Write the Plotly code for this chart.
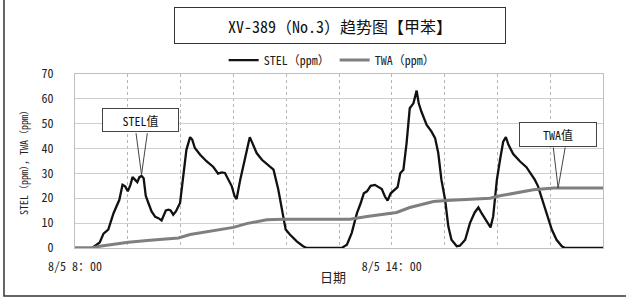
import plotly.graph_objects as go

# hours after 8/5 8:00
stel_x = [0, 0.32, 0.41, 0.47, 0.54, 0.63, 0.73, 0.79, 0.84, 0.90, 0.95, 1.0, 1.05, 1.09, 1.14, 1.18, 1.22, 1.26, 1.30,
          1.34, 1.39, 1.45, 1.52, 1.58, 1.64, 1.67, 1.72, 1.77, 1.81, 1.86, 1.91, 1.99, 2.05, 2.11, 2.18, 2.22, 2.27,
          2.37, 2.49, 2.62, 2.71, 2.78, 2.84, 2.90, 2.97, 3.02, 3.06, 3.13, 3.22, 3.31, 3.36, 3.44, 3.54, 3.66, 3.76,
          3.85, 3.91, 3.99, 4.07, 4.20, 4.32, 4.39,
          5.05, 5.15, 5.24, 5.34, 5.41, 5.47, 5.53, 5.60, 5.68, 5.74, 5.81, 5.87, 5.92, 5.98, 6.06, 6.11, 6.16, 6.22,
          6.28, 6.34, 6.41, 6.47, 6.51, 6.56, 6.66, 6.75, 6.82, 6.88, 6.94, 7.01, 7.07, 7.13, 7.23, 7.29, 7.39, 7.48,
          7.57, 7.64, 7.70, 7.80, 7.87, 7.92, 7.99, 8.05, 8.11, 8.16, 8.21, 8.30, 8.43, 8.55, 8.65, 8.71, 8.77, 8.84,
          8.93, 9.03, 9.12, 9.22, 9.28, 10.0]
stel_y = [0, 0, 1.3, 2.3, 5.8, 7.4, 14, 17.4, 19.4, 25.4, 24.8, 22.8, 25.4, 28.5, 27.4, 26.5, 28.5, 29, 28.1,
          21, 18.1, 14.7, 12.5, 12, 11.1, 12.7, 15.1, 15.4, 15.1, 13.4, 14.7, 18.1, 28.8, 39.5, 44.6, 43.6, 40.2,
          37.5, 34.9, 32.6, 29.9, 30.4, 30.2, 27.7, 24.8, 21, 19.7, 27.5, 35.5, 44.6, 42.2, 38.2, 35.5, 33.1, 31.5,
          23.5, 16.8, 7.4, 5.4, 2.7, 0.7, 0,
          0, 1.3, 6, 14, 18, 22, 22.8, 25, 25.4, 24.5, 23.7, 20.7, 19.1, 22, 23.4, 24.5, 30.1, 31.5,
          42.2, 56.2, 58.2, 63.3, 58.2, 54.9, 49.5, 46.9, 44.2, 38.2, 27.4, 19.4, 8.7, 3.3, 0.7, 0.9, 3.3, 10,
          14.3, 16.3, 14, 10.7, 8.3, 12.7, 27.4, 35.5, 42.8, 44.6, 41.5, 37.8, 34.8, 32.5, 29.5, 27.4, 24.8, 20.1,
          13.4, 7.4, 3.3, 0.7, 0, 0]

twa_x = [0, 0.32, 0.47, 1.01, 1.42, 1.96, 2.18, 3.0, 3.25, 3.63, 3.95, 5.21, 5.53, 6.09, 6.34, 6.79, 7.04, 7.86,
         8.05, 8.68, 9.06, 10.0]
twa_y = [0, 0, 0.7, 2.3, 3.1, 4.0, 5.4, 8.3, 9.8, 11.4, 11.6, 11.6, 12.7, 14.3, 16.3, 18.7, 19.1, 20.0,
         21.0, 23.4, 24.1, 24.1]

tick_vals = [0, 6]
tick_text = ["8/5 8：00", "8/5 14：00"]
y_ticks = [0, 10, 20, 30, 40, 50, 60, 70]

stel_note = (1.26, 29.5)
twa_note = (9.15, 24.1)

FONT = "Noto Sans Mono CJK SC, Noto Sans CJK SC, DejaVu Sans Mono"

fig = go.Figure()
fig.add_trace(go.Scatter(x=stel_x, y=stel_y, mode="lines", name="STEL（ppm）",
                         line=dict(color="#111111", width=2.3)))
fig.add_trace(go.Scatter(x=twa_x, y=twa_y, mode="lines", name="TWA（ppm）",
                         line=dict(color="#7f7f7f", width=3)))

fig.update_layout(
    width=626, height=304,
    margin=dict(l=75, r=23, t=74, b=56),
    paper_bgcolor="white", plot_bgcolor="white",
    font=dict(family=FONT, size=11, color="#222222"),
    showlegend=True,
    legend=dict(orientation="h", x=0.487, xanchor="center", y=1.08, yanchor="middle",
                font=dict(size=12, color="#222222"), bgcolor="rgba(0,0,0,0)",
                itemwidth=30, tracegroupgap=0),
)
fig.update_xaxes(range=[0, 10], tickvals=tick_vals, ticktext=tick_text,
                 showgrid=False, showline=True, mirror=True, linecolor="#bfbfbf", linewidth=1,
                 ticks="", ticklabelstandoff=8, tickfont=dict(size=12, color="#222222"),
                 zeroline=False, automargin=False)
fig.update_xaxes(minor=dict(dtick=1, tick0=0, showgrid=True, gridcolor="#b5b5b5", griddash="dot", gridwidth=1))
fig.update_yaxes(range=[0, 70], tickvals=y_ticks, showgrid=True, gridcolor="#cfcfcf", gridwidth=1,
                 showline=True, mirror=True, linecolor="#bfbfbf", linewidth=1, zeroline=False,
                 ticks="", ticklabelstandoff=18, tickfont=dict(size=12, color="#222222"), automargin=False)

# outer frame
fig.add_shape(type="rect", xref="paper", yref="paper", x0=-0.1345, x1=1.06, y0=-0.2759, y1=1.45,
              line=dict(color="#333333", width=1.5), fillcolor="rgba(0,0,0,0)", layer="below")

# title box
fig.add_annotation(xref="paper", yref="paper", x=0.502, y=1.2816, xanchor="center", yanchor="middle",
                   text="XV-389（No.3）趋势图【甲苯】", showarrow=False, width=328, height=33,
                   bordercolor="#333333", borderwidth=1, bgcolor="white",
                   font=dict(family=FONT, size=16, color="#111111"))
# axis titles
fig.add_annotation(xref="paper", yref="paper", x=-0.0966, y=0.506, xanchor="center", yanchor="middle",
                   textangle=-90, showarrow=False,
                   text="STEL（ppm），TWA（ppm）", font=dict(size=10, color="#222222"))
fig.add_annotation(xref="paper", yref="paper", x=0.4886, y=-0.161, xanchor="center", yanchor="middle",
                   showarrow=False, text="日期", font=dict(size=13, color="#222222"))

# callouts
def callout(pt, text, box_dx, box_dy, w, h, edge_l, edge_r, edge_dy):
    x, y = pt
    for dx in (edge_l, edge_r):
        fig.add_annotation(x=x, y=y, xref="x", yref="y", text="", showarrow=True, arrowhead=0,
                           arrowwidth=1, arrowcolor="#444444", ax=dx, ay=edge_dy)
    fig.add_annotation(x=x, y=y, xref="x", yref="y", text=text, showarrow=True, arrowhead=0,
                       arrowcolor="rgba(0,0,0,0)", arrowwidth=0.1, ax=box_dx, ay=box_dy,
                       width=w, height=h, bgcolor="white", bordercolor="#444444", borderwidth=1,
                       font=dict(size=12, color="#111111"))

callout(stel_note, "STEL值", -1, -55, 73, 20, -5.7, 6, -43)
callout(twa_note, "TWA值", 0, -54, 74, 21, -5, 7.3, -42)

fig.write_html("out.html", config={"displayModeBar": False},
               post_script="document.body.style.margin='0';document.body.style.padding='0';")
